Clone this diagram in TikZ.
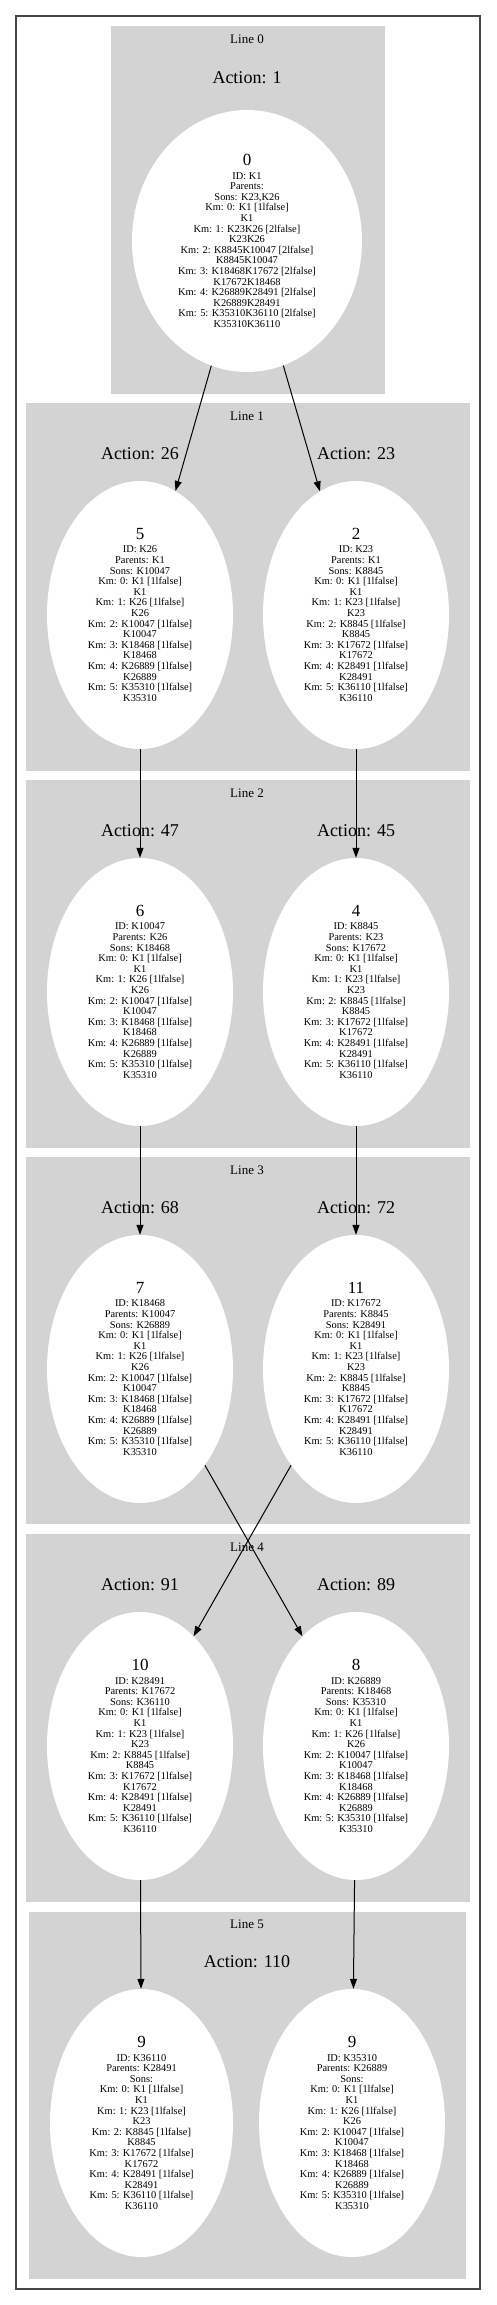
\documentclass[tikz,border=0pt]{standalone}
\usepackage{fontspec}
\setmainfont{Liberation Serif}
\usetikzlibrary{shapes.geometric,arrows.meta}
\definecolor{clgray}{RGB}{211,211,211}
\definecolor{framec}{RGB}{70,70,70}
\newcommand\kmL{Km: 0: K1 [1lfalse]\\K1\\Km: 1: K26 [1lfalse]\\K26\\Km: 2: K10047 [1lfalse]\\K10047\\Km: 3: K18468 [1lfalse]\\K18468\\Km: 4: K26889 [1lfalse]\\K26889\\Km: 5: K35310 [1lfalse]\\K35310}
\newcommand\kmR{Km: 0: K1 [1lfalse]\\K1\\Km: 1: K23 [1lfalse]\\K23\\Km: 2: K8845 [1lfalse]\\K8845\\Km: 3: K17672 [1lfalse]\\K17672\\Km: 4: K28491 [1lfalse]\\K28491\\Km: 5: K36110 [1lfalse]\\K36110}
\newcommand\num[1]{{\fontsize{17}{17}\selectfont #1}\\[2.6pt]}
\tikzset{
  cluster/.style={fill=clgray, draw=none},
  st/.style={ellipse, fill=white, draw=none, inner sep=0pt, minimum width=186pt, minimum height=268pt, align=center, font=\fontsize{10.4}{10.6}\selectfont},
  act/.style={font=\fontsize{18}{18}\selectfont, inner sep=0pt},
  lbl/.style={font=\fontsize{13}{13}\selectfont, inner sep=0pt},
  conn/.style={-{Triangle[length=10pt,width=7pt]}, line width=1pt, black}
}
\begin{document}
\begin{tikzpicture}[x=1pt,y=-1pt]
\useasboundingbox (0,0) rectangle (496,2305);
\draw[framec, line width=1.3pt] (16,16) rectangle (480,2289);
% clusters
\fill[clgray] (111,26) rectangle (385,394);
\fill[clgray] (26,403) rectangle (470,771);
\fill[clgray] (26,780) rectangle (470,1148);
\fill[clgray] (26,1157) rectangle (470,1524);
\fill[clgray] (26,1534) rectangle (470,1902);
\fill[clgray] (29,1912) rectangle (466,2279);
% cluster labels
\node[lbl] (l0) at (247,39) {Line 0};
\node[lbl] (l1) at (247,416) {Line 1};
\node[lbl] (l2) at (247,793) {Line 2};
\node[lbl] (l3) at (247,1170) {Line 3};
\node[lbl] (l4) at (247,1547) {Line 4};
\node[lbl] (l5) at (247,1924) {Line 5};
% action labels
\node[act] (a1) at (247,78) {Action: 1};
\node[act] (a26) at (140,454) {Action: 26};
\node[act] (a23) at (356,454) {Action: 23};
\node[act] (a47) at (140,831) {Action: 47};
\node[act] (a45) at (356,831) {Action: 45};
\node[act] (a68) at (140,1208) {Action: 68};
\node[act] (a72) at (356,1208) {Action: 72};
\node[act] (a91) at (140,1585) {Action: 91};
\node[act] (a89) at (356,1585) {Action: 89};
\node[act] (a110) at (247,1962) {Action: 110};
% states
\node[st, minimum width=230pt, minimum height=262pt] (n0) at (247,241) {\num{0}ID: K1\\Parents:\\Sons: K23,K26\\Km: 0: K1 [1lfalse]\\K1\\Km: 1: K23K26 [2lfalse]\\K23K26\\Km: 2: K8845K10047 [2lfalse]\\K8845K10047\\Km: 3: K18468K17672 [2lfalse]\\K17672K18468\\Km: 4: K26889K28491 [2lfalse]\\K26889K28491\\Km: 5: K35310K36110 [2lfalse]\\K35310K36110};
\node[st] (n5) at (140,615) {\num{5}ID: K26\\Parents: K1\\Sons: K10047\\\kmL};
\node[st] (n2) at (356,615) {\num{2}ID: K23\\Parents: K1\\Sons: K8845\\\kmR};
\node[st] (n6) at (140,992) {\num{6}ID: K10047\\Parents: K26\\Sons: K18468\\\kmL};
\node[st] (n4) at (356,992) {\num{4}ID: K8845\\Parents: K23\\Sons: K17672\\\kmR};
\node[st] (n7) at (140,1369) {\num{7}ID: K18468\\Parents: K10047\\Sons: K26889\\\kmL};
\node[st] (n11) at (356,1369) {\num{11}ID: K17672\\Parents: K8845\\Sons: K28491\\\kmR};
\node[st] (n10) at (140,1746) {\num{10}ID: K28491\\Parents: K17672\\Sons: K36110\\\kmR};
\node[st] (n8) at (356,1746) {\num{8}ID: K26889\\Parents: K18468\\Sons: K35310\\\kmL};
\node[st, minimum width=183pt] (n9a) at (141.5,2123) {\num{9}ID: K36110\\Parents: K28491\\Sons:\\\kmR};
\node[st] (n9b) at (352,2123) {\num{9}ID: K35310\\Parents: K26889\\Sons:\\\kmL};
% connectors
\draw[conn] (n0) -- (n5);
\draw[conn] (n0) -- (n2);
\draw[conn] (n5) -- (n6);
\draw[conn] (n2) -- (n4);
\draw[conn] (n6) -- (n7);
\draw[conn] (n4) -- (n11);
\draw[conn] (n7.-56) -- (n8.116);
\draw[conn] (n11.236) -- (n10.64);
\draw[conn] (n10) -- (n9a);
\draw[conn] (n8) -- (n9b);
\end{tikzpicture}
\end{document}
